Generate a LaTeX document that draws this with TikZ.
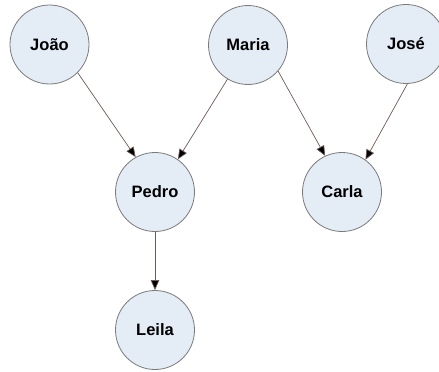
\documentclass[tikz,border=0pt]{standalone}
\usepackage{fontspec}
\setmainfont{Liberation Sans}
\usetikzlibrary{arrows.meta}
\definecolor{nodefill}{HTML}{E4ECF6}
\definecolor{nodeborder}{HTML}{7A7A7A}
\definecolor{edgecol}{HTML}{6E5A55}
\begin{document}
\begin{tikzpicture}[x=1pt,y=-1pt,
  person/.style={circle,draw=nodeborder,fill=nodefill,line width=0.8pt,minimum size=79pt,inner sep=0pt,font=\fontsize{16.5}{18}\selectfont\bfseries},
  rel/.style={draw=edgecol,line width=0.7pt,-{Triangle[length=10pt,width=8.5pt,fill=black]}}]
\useasboundingbox (0,0) rectangle (439,372);
\node[person] (joao) at (49.5,44.5) {João};
\node[person] (maria) at (248,45) {Maria};
\node[person] (jose) at (406,44) {José};
\node[person] (pedro) at (155,192) {Pedro};
\node[person] (carla) at (342,192) {Carla};
\node[person] (leila) at (155,330) {Leila};
\draw[rel] (joao.-45) -- (pedro.119);
\draw[rel] (maria.239) -- (pedro.55);
\draw[rel] (maria.-41) -- (carla.115);
\draw[rel] (jose.-88) -- (carla.54);
\draw[rel] (pedro.south) -- (leila.north);
\end{tikzpicture}
\end{document}
